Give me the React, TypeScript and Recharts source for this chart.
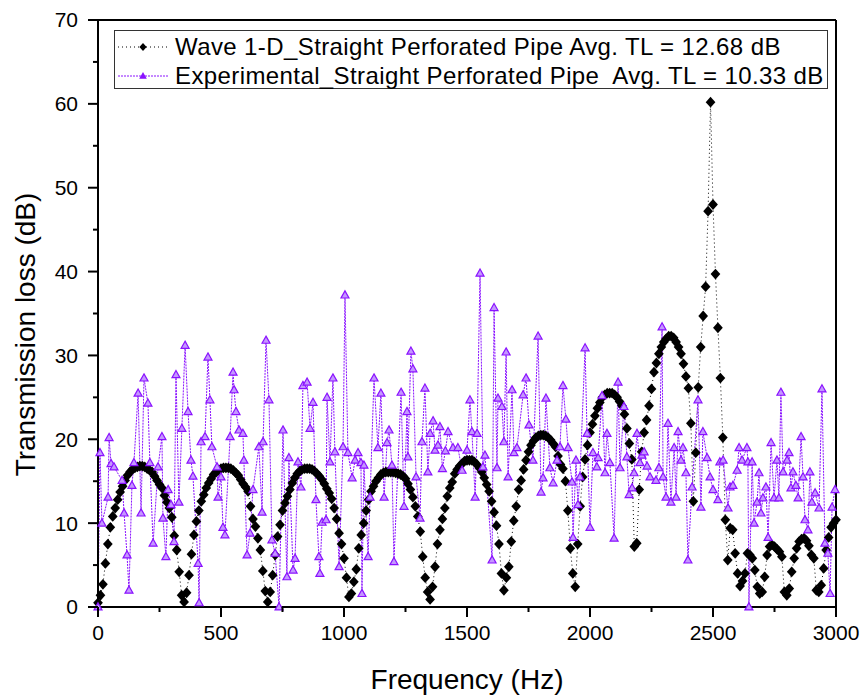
import React from "react";
import { LineChart, Line, XAxis, YAxis, Legend, Label } from "recharts";

const FONT = "'Liberation Sans', Arial, sans-serif";
const WAVE_COLOR = "#000000";
const EXP_COLOR = "#8a12ff";
const EXP_FILL = "#c497ff";

// Wave 1-D model, sampled every 10 Hz from 0 to 3000 Hz
const WAVE_STEP_HZ = 10;
const waveTL = [
  0.5, 1.4, 2.7, 5.2, 7.5, 9.5, 10.8, 11.8, 12.8, 13.7,
  14.4, 15.1, 15.7, 16.1, 16.4, 16.6, 16.7, 16.8, 16.8, 16.7,
  16.5, 16.3, 16.1, 15.6, 15.1, 14.6, 14.2, 13.3, 12.5, 11.8,
  10.7, 8.5, 6.8, 4.2, 1.4, 0.6, 1.7, 3.8, 6.3, 8.6,
  10.2, 11.5, 12.6, 13.4, 14.2, 14.8, 15.3, 15.8, 16.1, 16.3,
  16.5, 16.6, 16.6, 16.6, 16.5, 16.3, 16.0, 15.7, 15.2, 14.7,
  14.3, 13.8, 12.0, 10.5, 9.6, 8.2, 6.8, 4.3, 1.9, 0.6,
  1.8, 3.8, 6.2, 8.4, 9.8, 11.5, 12.4, 13.2, 14.0, 14.8,
  15.4, 15.9, 16.2, 16.4, 16.5, 16.5, 16.5, 16.4, 16.2, 15.9,
  15.6, 15.2, 14.7, 14.1, 13.6, 12.9, 11.8, 10.5, 8.8, 7.5,
  5.8, 3.5, 1.2, 1.6, 3.0, 4.5, 7.0, 8.6, 10.0, 11.5,
  12.8, 13.8, 14.4, 15.0, 15.4, 15.8, 16.0, 16.1, 16.1, 16.1,
  16.1, 16.0, 15.9, 15.8, 15.6, 15.3, 14.7, 14.0, 13.1, 12.0,
  10.8, 9.0, 6.0, 3.5, 1.8, 0.9, 2.4, 4.8, 7.5, 9.2,
  10.5, 11.8, 13.2, 14.2, 14.9, 15.9, 16.4, 16.8, 17.1, 17.4,
  17.5, 17.5, 17.5, 17.3, 17.0, 16.6, 16.1, 15.4, 14.6, 13.8,
  12.6, 11.3, 9.7, 7.5, 4.0, 2.0, 3.5, 4.8, 7.8, 10.3,
  12.0, 14.0, 15.1, 16.4, 17.5, 18.5, 19.3, 19.8, 20.2, 20.4,
  20.5, 20.5, 20.4, 20.2, 19.9, 19.5, 19.1, 18.0, 17.0, 16.5,
  15.0, 11.5, 7.0, 4.0, 2.4, 7.5, 12.0, 15.5, 17.6, 19.3,
  20.8, 21.8, 22.8, 23.7, 24.4, 25.0, 25.3, 25.5, 25.5, 25.5,
  25.3, 25.0, 24.5, 24.0, 23.0, 21.3, 19.5, 17.6, 7.2, 7.6,
  14.0, 18.5, 20.8, 22.3, 24.0, 26.0, 28.0, 29.1, 30.2, 31.0,
  31.6, 32.0, 32.3, 32.3, 32.1, 31.6, 31.0, 30.2, 29.0, 27.5,
  26.1, 21.9, 12.6, 18.4, 26.2, 31.0, 34.7, 38.2, 47.2, 60.2,
  48.0, 39.7, 33.3, 27.3, 20.2, 10.4, 5.6, 9.4, 9.2, 6.4,
  4.0, 2.5, 3.1, 4.0, 6.4, 6.2, 5.8, 4.4, 2.4, 1.6,
  1.8, 3.6, 6.2, 7.2, 7.4, 7.2, 6.9, 6.6, 6.0, 1.8,
  1.4, 2.2, 4.2, 5.8, 7.0, 7.8, 8.1, 8.2, 7.9, 7.3,
  6.2, 5.8, 2.0, 1.8, 2.6, 4.6, 6.8, 8.3, 9.5, 10.0,
  10.4,
];

// Experimental measurement (frequency in Hz, TL in dB)
const expFreq = [
  0, 8, 16, 41, 45, 53, 65, 98, 106, 118,
  126, 138, 146, 163, 175, 187, 203, 211, 224, 244,
  260, 264, 276, 285, 297, 309, 317, 329, 341, 354,
  366, 378, 386, 407, 411, 419, 435, 447, 455, 463,
  484, 488, 500, 508, 516, 537, 549, 553, 561, 573,
  589, 593, 606, 618, 630, 654, 667, 671, 683, 695,
  707, 720, 736, 752, 768, 776, 793, 801, 813, 825,
  833, 850, 862, 874, 886, 898, 902, 911, 927, 931,
  943, 955, 963, 980, 996, 1004, 1016, 1033, 1045, 1057,
  1069, 1073, 1081, 1098, 1106, 1122, 1138, 1150, 1163, 1175,
  1183, 1195, 1203, 1232, 1244, 1256, 1260, 1272, 1280, 1293,
  1309, 1317, 1329, 1341, 1350, 1362, 1370, 1382, 1390, 1400,
  1412, 1423, 1443, 1463, 1480, 1500, 1512, 1520, 1533, 1541,
  1553, 1565, 1573, 1602, 1610, 1622, 1626, 1642, 1650, 1659,
  1667, 1683, 1691, 1703, 1728, 1740, 1752, 1768, 1789, 1801,
  1809, 1821, 1837, 1850, 1866, 1878, 1890, 1902, 1911, 1927,
  1931, 1943, 1951, 1959, 1980, 1988, 2000, 2012, 2028, 2033,
  2049, 2061, 2069, 2081, 2098, 2114, 2122, 2138, 2150, 2159,
  2171, 2179, 2191, 2203, 2211, 2220, 2232, 2244, 2268, 2280,
  2293, 2297, 2309, 2317, 2329, 2342, 2350, 2358, 2370, 2378,
  2390, 2398, 2415, 2439, 2451, 2459, 2476, 2488, 2500, 2520,
  2528, 2541, 2561, 2569, 2581, 2598, 2606, 2618, 2638, 2642,
  2646, 2659, 2667, 2679, 2687, 2695, 2703, 2715, 2724, 2736,
  2748, 2760, 2768, 2776, 2785, 2801, 2809, 2817, 2825, 2837,
  2846, 2858, 2866, 2874, 2886, 2894, 2902, 2915, 2931, 2943,
  2955, 2967, 2976, 2984, 2996,
];
const expTL = [
  0.0, 18.4, 10.0, 13.1, 20.2, 17.1, 16.7, 15.1, 11.2, 6.2,
  2.0, 14.5, 17.2, 25.5, 11.2, 27.3, 24.3, 17.2, 7.6, 16.7,
  20.3, 10.6, 6.0, 14.0, 12.2, 7.8, 27.7, 12.5, 21.3, 31.2,
  23.3, 17.5, 15.6, 5.2, 0.5, 19.7, 20.3, 29.8, 24.7, 19.1,
  16.7, 13.1, 15.5, 9.5, 8.6, 20.3, 28.0, 25.9, 23.3, 21.1,
  20.7, 17.5, 6.2, 8.8, 14.0, 19.1, 11.3, 19.7, 31.8, 24.7,
  8.0, 6.4, 0.0, 21.1, 3.6, 17.8, 4.4, 5.8, 17.3, 14.3,
  26.4, 26.8, 21.3, 24.4, 12.8, 6.0, 4.0, 10.1, 10.4, 25.0,
  17.3, 27.3, 18.5, 4.8, 19.1, 37.2, 18.4, 15.4, 17.5, 18.4,
  17.2, 1.6, 16.9, 6.0, 13.1, 27.3, 19.0, 25.5, 13.1, 19.6,
  21.1, 16.9, 5.4, 25.6, 12.0, 23.3, 17.9, 30.5, 28.4, 15.5,
  10.6, 19.7, 26.1, 16.1, 20.7, 22.2, 18.7, 19.3, 21.5, 16.5,
  18.6, 20.9, 19.0, 19.0, 16.3, 18.7, 24.7, 20.9, 13.1, 20.7,
  39.8, 16.7, 18.1, 5.6, 35.7, 16.6, 24.9, 23.9, 19.7, 30.4,
  15.5, 25.9, 18.4, 19.0, 25.3, 27.3, 21.7, 17.5, 32.3, 13.7,
  15.4, 24.9, 16.6, 14.8, 17.5, 19.1, 26.4, 22.4, 19.0, 14.9,
  8.3, 17.5, 12.2, 15.5, 30.9, 20.7, 9.5, 18.4, 16.7, 17.8,
  25.2, 16.0, 20.7, 17.2, 8.2, 26.8, 16.6, 23.9, 17.9, 13.4,
  14.2, 16.0, 20.7, 17.2, 18.1, 18.5, 16.8, 15.5, 15.1, 16.6,
  33.4, 15.5, 13.1, 21.9, 12.5, 19.0, 13.1, 20.9, 17.5, 19.0,
  16.0, 5.6, 14.3, 24.7, 11.9, 20.9, 17.8, 15.5, 14.0, 12.8,
  17.3, 17.5, 11.8, 14.3, 14.5, 16.3, 19.0, 17.5, 19.0, 17.3,
  0.0, 17.3, 10.0, 12.5, 16.0, 11.2, 13.0, 14.3, 8.3, 19.6,
  13.0, 17.5, 13.0, 25.6, 16.1, 17.5, 18.4, 14.2, 16.1, 14.5,
  13.0, 20.3, 15.5, 10.4, 9.2, 16.1, 12.5, 13.6, 11.8, 26.0,
  7.6, 6.4, 1.6, 11.9, 14.0,
];

const seriesNames = [
  "Wave 1-D_Straight Perforated Pipe Avg. TL = 12.68 dB",
  "Experimental_Straight Perforated Pipe  Avg. TL = 10.33 dB",
];

const bottomTicks = [0, 250, 500, 750, 1000, 1250, 1500, 1750, 2000, 2250, 2500, 2750, 3000];
const leftTicks = [0, 5, 10, 15, 20, 25, 30, 35, 40, 45, 50, 55, 60, 65, 70];
const topTicks = [0, 300, 600, 900, 1200, 1500, 1800, 2100, 2400, 2700, 3000];
const rightTicks = [0, 7, 14, 21, 28, 35, 42, 49, 56, 63, 70];

const waveData = waveTL.map((tl, i) => ({ f: i * WAVE_STEP_HZ, tl }));
const expData = expFreq.map((f, i) => ({ f, tl: expTL[i] }));

const diamondPath = (cx: number, cy: number, r: number) =>
  `M${cx},${cy - r}L${cx + r * 0.9},${cy}L${cx},${cy + r}L${cx - r * 0.9},${cy}Z`;
const trianglePath = (cx: number, cy: number, r: number) =>
  `M${cx},${cy - r}L${cx + r * 0.95},${cy + r * 0.7}L${cx - r * 0.95},${cy + r * 0.7}Z`;

function DiamondDot(props: any) {
  const { cx, cy, index } = props;
  if (cx == null || cy == null) return null;
  return <path key={`d-${index}`} d={diamondPath(cx, cy, 5.4)} fill={WAVE_COLOR} />;
}

function TriangleDot(props: any) {
  const { cx, cy, index } = props;
  if (cx == null || cy == null) return null;
  return (
    <path
      key={`t-${index}`}
      d={trianglePath(cx, cy, 4.2)}
      fill={EXP_FILL}
      stroke={EXP_COLOR}
      strokeWidth={1.2}
    />
  );
}

function BottomTick(props: any) {
  const { x, y, payload } = props;
  const major = payload.value % 500 === 0;
  return (
    <g>
      <line x1={x} x2={x} y1={y} y2={y + (major ? 10 : 5)} stroke="#000" strokeWidth={2} />
      {major && (
        <text x={x} y={y + 26} dy="0.355em" textAnchor="middle" fontSize={21} fontFamily={FONT} fill="#000">
          {payload.value}
        </text>
      )}
    </g>
  );
}

function LeftTick(props: any) {
  const { x, y, payload } = props;
  const major = payload.value % 10 === 0;
  return (
    <g>
      <line x1={x - (major ? 10 : 5)} x2={x} y1={y} y2={y} stroke="#000" strokeWidth={2} />
      {major && (
        <text x={x - 20} y={y} dy="0.355em" textAnchor="end" fontSize={21} fontFamily={FONT} fill="#000">
          {payload.value}
        </text>
      )}
    </g>
  );
}

function TopTick(props: any) {
  const { x, y } = props;
  return <line x1={x} x2={x} y1={y} y2={y + 8} stroke="#000" strokeWidth={2} />;
}

function RightTick(props: any) {
  const { x, y } = props;
  return <line x1={x - 9} x2={x} y1={y} y2={y} stroke="#000" strokeWidth={2} />;
}

function LegendBox() {
  return (
    <div
      style={{
        width: 714,
        height: 59,
        boxSizing: "border-box",
        border: "1.5px solid #333",
        background: "#fff",
        fontFamily: FONT,
        fontSize: 24,
        letterSpacing: 0.4,
        color: "#000",
        paddingTop: 1,
      }}
    >
      {seriesNames.map((name, i) => (
        <div key={name} style={{ display: "flex", alignItems: "center", height: 29, whiteSpace: "pre" }}>
          <svg width={58} height={20} style={{ marginLeft: 2, flex: "none" }}>
            {i === 0 ? (
              <g>
                <line x1={1} x2={51} y1={10} y2={10} stroke={WAVE_COLOR} strokeWidth={1} strokeDasharray="1 3" />
                <path d={diamondPath(26, 10, 4)} fill={WAVE_COLOR} />
              </g>
            ) : (
              <g>
                <line x1={1} x2={51} y1={10} y2={10} stroke={EXP_COLOR} strokeWidth={1} strokeDasharray="2 1" />
                <path d={trianglePath(26, 10, 4)} fill={EXP_COLOR} />
              </g>
            )}
          </svg>
          <span>{name}</span>
        </div>
      ))}
    </div>
  );
}

export default function App() {
  return (
    <div style={{ position: "absolute", left: 0, top: 0, background: "#fff" }}>
      <LineChart width={864} height={700} margin={{ top: 0, right: 0, bottom: 0, left: 0 }}>
        <XAxis
          xAxisId="bottom"
          type="number"
          dataKey="f"
          domain={[0, 3000]}
          ticks={bottomTicks}
          interval={0}
          height={93}
          tickSize={0}
          tickMargin={0}
          tickLine={false}
          tick={<BottomTick />}
          axisLine={{ stroke: "#000", strokeWidth: 2 }}
        >
          <Label
            value="Frequency (Hz)"
            position="center"
            dy={26}
            style={{ fontSize: 28, fontFamily: FONT, fill: "#000" }}
          />
        </XAxis>
        <XAxis
          xAxisId="top"
          orientation="top"
          type="number"
          dataKey="f"
          domain={[0, 3000]}
          ticks={topTicks}
          interval={0}
          height={20}
          tickSize={0}
          tickMargin={0}
          tickLine={false}
          tick={<TopTick />}
          axisLine={{ stroke: "#000", strokeWidth: 2 }}
        />
        <YAxis
          yAxisId="left"
          type="number"
          domain={[0, 70]}
          ticks={leftTicks}
          interval={0}
          width={98}
          tickSize={0}
          tickMargin={0}
          tickLine={false}
          tick={<LeftTick />}
          axisLine={{ stroke: "#000", strokeWidth: 2 }}
        >
          <Label
            value="Transmission loss (dB)"
            position="center"
            angle={-90}
            dx={-24}
            dy={21}
            style={{ fontSize: 28, fontFamily: FONT, fill: "#000", textAnchor: "middle" }}
          />
        </YAxis>
        <YAxis
          yAxisId="right"
          orientation="right"
          type="number"
          domain={[0, 70]}
          ticks={rightTicks}
          interval={0}
          width={28}
          tickSize={0}
          tickMargin={0}
          tickLine={false}
          tick={<RightTick />}
          axisLine={{ stroke: "#000", strokeWidth: 2 }}
        />
        <Legend
          layout="vertical"
          verticalAlign="middle"
          align="center"
          content={<LegendBox />}
          wrapperStyle={{ top: 30, left: 114, width: 714, height: 59 }}
        />
        <Line
          xAxisId="bottom"
          yAxisId="left"
          data={waveData}
          dataKey="tl"
          name={seriesNames[0]}
          type="linear"
          stroke={WAVE_COLOR}
          strokeWidth={1}
          strokeDasharray="1 3"
          dot={DiamondDot}
          activeDot={false}
          isAnimationActive={false}
        />
        <Line
          xAxisId="bottom"
          yAxisId="left"
          data={expData}
          dataKey="tl"
          name={seriesNames[1]}
          type="linear"
          stroke={EXP_COLOR}
          strokeWidth={1}
          strokeDasharray="2 1"
          dot={TriangleDot}
          activeDot={false}
          isAnimationActive={false}
        />
      </LineChart>
    </div>
  );
}
